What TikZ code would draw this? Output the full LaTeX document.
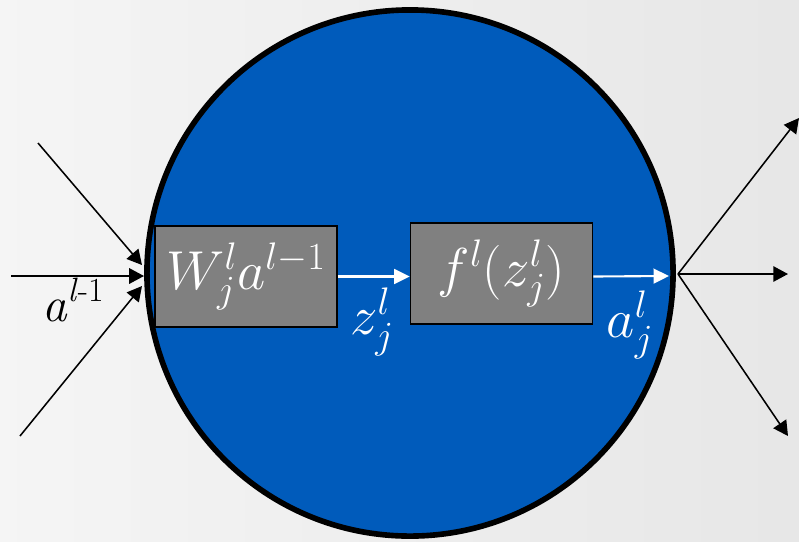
\RequirePackage{fix-cm}
\documentclass[tikz,border=0pt]{standalone}
\usepackage{fontspec}
\usetikzlibrary{arrows.meta}
\definecolor{neuronblue}{RGB}{0,91,187}
\definecolor{boxgray}{RGB}{128,128,128}

\begin{document}
\begin{tikzpicture}[x=0.025cm, y=-0.025cm,
    box/.style={draw=black, line width=1.2pt, fill=boxgray, text=white,
        minimum width=4.55cm, minimum height=2.525cm, inner sep=0pt},
    big/.style={font=\fontsize{39}{45}\selectfont},
    inarrow/.style={-{Triangle[length=10.5pt,width=11pt]}, line width=1.1pt},
    flow/.style={-{Triangle[length=11pt,width=10.5pt]}, line width=1.5pt, white}]
    % 背景
    \shade[left color=gray!8, right color=gray!19] (0,0) rectangle (799,541);
    \useasboundingbox (0,0) rectangle (799,541);

    % 神经元
    \node[circle, draw=black, line width=4pt, fill=neuronblue,
        minimum size=13.15cm, inner sep=0pt] (neuron) at (410,273) {};

    % 两个方框
    \node[box, big] (w) at (246,276.5) {$W_j^l a^{l-1}$};
    \node[box, big] (f) at (501.5,273.5) {$f^l(z_j^l)$\hspace{8pt}};

    % 内部箭头
    \draw[flow] (w.east) -- (w.east -| f.west);
    \node[big, text=white, inner sep=0pt] (z) at (372,322) {$z_j^l$};
    \coordinate (aend) at (669,276);
    \draw[flow] (f.east |- w.east) -- (aend);
    \node[big, text=white, inner sep=0pt] (a) at (630,325) {$a_j^l$};

    % 输入
    \coordinate (in1) at (38,143);
    \coordinate (in2) at (11,276);
    \coordinate (in3) at (20,436);
    \coordinate (e1) at (142,265);
    \coordinate (e2) at (144,276);
    \coordinate (e3) at (142,286);
    \draw[inarrow] (in1) -- (e1);
    \draw[inarrow] (in2) -- (e2);
    \draw[inarrow] (in3) -- (e3);
    \node[inner sep=0pt, font=\fontsize{35}{40}\selectfont] (ain) at (73,300)
        {\textit{a}\raisebox{0.4em}{\fontsize{24}{28}\selectfont\textit{l}-1}};

    % 输出
    \coordinate (hub) at (678,274);
    \coordinate (out1) at (799,118);
    \coordinate (out2) at (788,274);
    \coordinate (out3) at (788,436);
    \draw[inarrow] (hub) -- (out1);
    \draw[inarrow] (hub) -- (out2);
    \draw[inarrow] (hub) -- (out3);
\end{tikzpicture}
\end{document}
